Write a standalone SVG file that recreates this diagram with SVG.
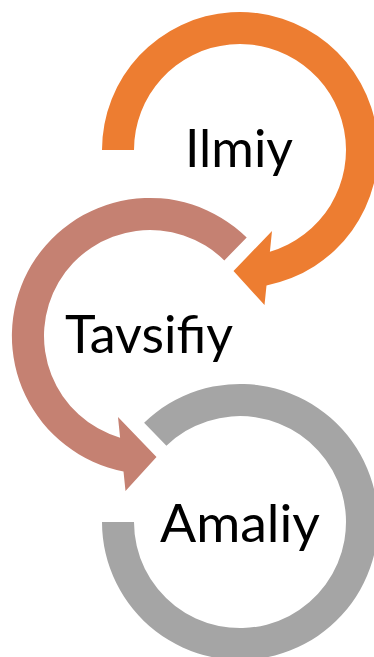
<svg xmlns="http://www.w3.org/2000/svg" width="374" height="657" viewBox="0 0 374 657">
<style>
.lbl{font-family:Lato,"Open Sans","Liberation Sans",sans-serif;font-size:52px;fill:#000;text-anchor:middle}
</style>
<rect width="374" height="657" fill="#fff"/>
<g id="connectors">
<path id="arc-gray" fill="#A5A5A5" d="M144.1,422.7 A138,138 0 1 1 102,522 L134,522 A106,106 0 1 0 166.4,445.8 Z"/>
<path id="arc-brown" fill="#C58172" d="M246.7,237.6 A138,138 0 1 0 123.5,471.4 L125.5,491 L156.5,457 L118,417 L120.1,437.7 A106,106 0 1 1 224.3,260.4 Z"/>
<path id="arc-orange" fill="#ED7D31" d="M102,150 A138,138 0 1 1 266.5,285.4 L264.5,305 L233.5,271 L272,231 L269.9,251.7 A106,106 0 1 0 134,150 Z"/>
</g>
<g id="node-ilmiy"><text class="lbl" x="239" y="167" textLength="108" lengthAdjust="spacingAndGlyphs">Ilmiy</text></g>
<g id="node-tavsifiy"><text class="lbl" x="149" y="353" textLength="168" lengthAdjust="spacingAndGlyphs">Tavsifiy</text></g>
<g id="node-amaliy"><text class="lbl" x="240" y="542" textLength="160" lengthAdjust="spacingAndGlyphs">Amaliy</text></g>
</svg>
